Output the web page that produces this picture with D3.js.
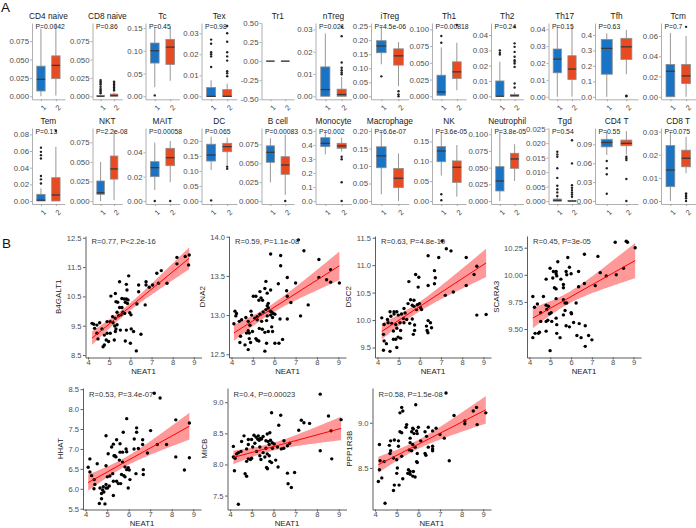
<!DOCTYPE html>
<html><head><meta charset="utf-8">
<script src="https://cdn.jsdelivr.net/npm/d3@7/dist/d3.min.js"></script>
<style>
body{margin:0;background:#fff}
svg text{font-family:"Liberation Sans",Arial,Helvetica,sans-serif}
</style></head>
<body>
<svg id="chart" width="696" height="528"></svg>
<script>
// ---------------- Panel A data ----------------
const boxTitles = ["CD4 naive","CD8 naive","Tc","Tex","Tr1","nTreg","iTreg","Th1","Th2","Th17","Tfh","Tcm",
  "Tem","NKT","MAIT","DC","B cell","Monocyte","Macrophage","NK","Neutrophil","Tgd","CD4 T","CD8 T"];
const boxPText = ["P=0.0042","P=0.86","P=0.45","P=0.98","","P=0.021","P=4.5e-06","P=0.00818","P=0.24","P=0.15","P=0.63","P=0.7",
  "P=0.13","P=2.2e-08","P=0.00058","P=0.065","P=0.00083","P=0.002","P=6.6e-07","P=3.6e-05","P=3.8e-05","P=0.54","P=0.55","P=0.075"];
const boxTicks = [
  ["0.000","0.025","0.050","0.075"],["0.000","0.025","0.050","0.075"],["0.00","0.05","0.10","0.15"],["0.00","0.01","0.02","0.03"],
  ["-0.50","-0.25","0.00","0.25","0.50"],["0.00","0.01","0.02","0.03"],["0.00","0.05","0.10","0.15","0.20","0.25"],
  ["0.000","0.025","0.050","0.075","0.100"],["0.00","0.01","0.02","0.03","0.04"],["0.00","0.01","0.02","0.03","0.04"],
  ["0.0","0.1","0.2","0.3","0.4"],["0.00","0.02","0.04","0.06"],
  ["0.00","0.02","0.04","0.06","0.08"],["0.000","0.025","0.050","0.075"],["0.00","0.02","0.04"],["0.00","0.05","0.10","0.15","0.20"],
  ["0.000","0.025","0.050","0.075"],["0.0","0.1","0.2","0.3","0.4","0.5"],["0.00","0.05","0.10","0.15","0.20"],["0.00","0.05","0.10","0.15"],
  ["0.000","0.025","0.050","0.075","0.100"],["0.000","0.005","0.010","0.015","0.020","0.025"],["0.00","0.03","0.06","0.09"],["0.00","0.01","0.02","0.03"]];
const boxDomains = [
  [-0.0041,0.0997],[-0.0041,0.0997],[-0.0066,0.161],[-0.0014,0.0349],[-0.5,0.5],[-0.00135,0.0329],[-0.0107,0.261],
  [-0.0045,0.1095],[-0.002,0.0479],[-0.0015,0.0437],[-0.016,0.477],[-0.0025,0.0728],
  [-0.0036,0.0876],[-0.0038,0.0933],[-0.0025,0.060],[-0.01,0.243],[-0.004,0.0966],[-0.021,0.521],[-0.0086,0.2086],
  [-0.0076,0.184],[-0.0045,0.1094],[-0.001,0.0252],[-0.0048,0.116],[-0.0013,0.0316]];
// [lower whisker, Q1, median, Q3, upper whisker]
const group1Stats = [
  [0,0.0072,0.023,0.041,0.092],[0,0,0,0.001,0.002],[0.020,0.073,0.100,0.117,0.153],[0,0,0,0.0042,0.0077],
  [0,0,0,0,0],[0,0,0.003,0.0132,0.0282],[0.114,0.155,0.179,0.198,0.25],[0,0.0015,0.0065,0.0315,0.073],
  [0,0,0,0.01,0.0225],[0,0.0142,0.0223,0.0283,0.042],[0,0.146,0.313,0.371,0.41],[0,0,0.0252,0.0319,0.063],
  [0,0,0.001,0.008,0.0152],[0,0.0086,0.0106,0.0256,0.050],[0.009,0.020,0.0274,0.0323,0.048],[0.103,0.133,0.153,0.189,0.214],
  [0.0247,0.0512,0.0644,0.073,0.083],[0.333,0.388,0.412,0.452,0.50],[0.019,0.095,0.129,0.155,0.20],[0.064,0.099,0.126,0.137,0.175],
  [0,0.015,0.030,0.0515,0.104],[0,0,0.0002,0.0007,0.0015],[0.073,0.086,0.093,0.098,0.111],[0,0.0062,0.0134,0.024,0.030]];
const group2Stats = [
  [0.001,0.024,0.042,0.055,0.099],[0,0,0.001,0.003,0.005],[0.034,0.070,0.108,0.125,0.153],[0,0,0,0.0032,0.006],
  [0,0,0,0,0],[0,0,0.0008,0.0032,0.0087],[0.036,0.111,0.144,0.169,0.193],[0.009,0.0265,0.0365,0.0515,0.08],
  [0,0,0.0004,0.0011,0.0025],[0,0.0102,0.0164,0.0243,0.042],[0.146,0.242,0.323,0.378,0.432],[0,0.013,0.0206,0.0319,0.06],
  [0,0,0.0072,0.028,0.065],[0.0013,0.028,0.041,0.0575,0.091],[0.0154,0.029,0.0356,0.0433,0.0493],[0.12,0.164,0.181,0.192,0.211],
  [0.008,0.0353,0.0476,0.0586,0.0873],[0.352,0.376,0.393,0.412,0.452],[0,0.038,0.065,0.093,0.136],[0.011,0.047,0.085,0.101,0.141],
  [0.030,0.049,0.063,0.0715,0.085],[0,0,0,0.0002,0.0005],[0.074,0.0878,0.0916,0.0968,0.111],[0.012,0.0148,0.0185,0.022,0.0278]];
const group1Outliers = [
  [],[0.004,0.006,0.008,0.010,0.013,0.016,0.018,0.020,0.022],[0.002],[0.027,0.025,0.021,0.020,0.019,0.014],
  [],[],[0.071],[0.09,0.08],[0.030,0.0284,0.0273],[],[],[],
  [0.064,0.059,0.055,0.051,0.030,0.026,0.021],[],[0],[0.002],[],[],[],[0.017,0.002],
  [],[0.017,0.0161,0.0153,0.0113,0.008,0.0053,0.0041,0.003,0.0018],[0.0635,0.052,0.0424,0.0116],[]];
const group2Outliers = [
  [],[0.008,0.010,0.012,0.014,0.016,0.018,0.020],[],[0.0335,0.030,0.026,0.021,0.019,0.017,0.012,0.011,0.0096],
  [],[0.0312,0.027,0.0152,0.0128,0.0117,0.0107,0.0099],[0.018,0.007,0],[0.1065],
  [0.0454,0.0346,0.0323,0.029,0.0258,0.0236,0.0225,0.0214,0.0192,0.0083,0.0057],[],[0.008,0.004],[0.069],
  [0.084],[],[0],[0.114,0.107],[0],[0.316,0.298,0.134,0],[],[],
  [],[0.021,0.013,0.0055,0.0046,0.0038,0.003,0.0023,0.0015],[0.0703,0.0677,0.065,0.035,0],[0.0033,0.0026,0.0019,0.0012,0]];
const groupNames = ["1","2"];
const groupColors = ["#1a74c6","#e84a22"];

// ---------------- Panel B data ----------------
const geneNames = ["B4GALT1","DNA2","DSC2","SCARA3","HHAT","MICB","PPP1R3B"];
const corText = ["R=0.77, P<2.2e-16","R=0.59, P=1.1e-08","R=0.63, P=4.8e-10","R=0.45, P=3e-05",
  "R=0.53, P=3.4e-07","R=0.4, P=0.00023","R=0.58, P=1.5e-08"];
const neat1Ticks = ["4","5","6","7","8","9"];
const neat1Domain = [3.88, 9.36];
const geneTicks = [
  ["8.5","9.5","10.5","11.5","12.5"],["12.5","13.0","13.5","14.0"],["9.5","10.0","10.5","11.0","11.5"],
  ["9.50","9.75","10.00","10.25"],["5.5","6.0","6.5","7.0","7.5","8.0","8.5"],["7.5","8.0","8.5","9.0"],["8.5","9.0"]];
const geneDomains = [[8.415,12.56],[12.459,14.009],[9.318,11.531],[9.237,10.358],[5.48,8.53],[7.276,9.229],[8.04,9.385]];

const ptsB4GALT1 = [[8.20,11.83],[8.59,11.86],[8.78,11.91],[8.75,11.57],[8.20,11.61],[7.46,11.38],[7.25,11.29],[7.73,10.95],
 [7.33,10.95],[7.05,10.89],[6.89,10.81],[6.74,11.00],[6.74,10.89],[6.70,10.21],[6.39,10.89],[6.39,10.66],[6.31,10.24],
 [5.92,11.20],[5.81,10.91],[5.84,10.72],[5.49,11.00],[5.60,10.43],[5.71,10.41],[5.81,10.41],[5.89,10.38],[5.76,10.30],
 [5.86,10.26],[5.49,10.12],[5.29,10.60],[5.08,10.51],[5.32,10.32],[5.40,10.30],[5.37,9.96],[5.65,9.96],[5.73,9.92],
 [5.45,9.84],[5.56,9.87],[5.97,9.94],[6.03,9.87],[5.16,9.81],[5.29,9.75],[4.90,9.64],[5.05,9.64],[5.26,9.49],[5.32,9.39],
 [5.05,9.24],[4.90,9.24],[5.29,9.30],[5.53,9.35],[5.81,9.35],[6.04,9.39],[6.15,9.30],[5.76,8.98],[6.00,8.90],[5.24,9.01],
 [4.86,9.01],[4.97,8.96],[4.77,8.84],[4.71,8.78],[6.28,8.64],[6.50,9.21],[4.19,9.58],[4.27,9.55],[4.31,9.41],[4.42,9.52],
 [4.55,9.60],[4.42,9.24],[4.47,9.05],[4.66,9.39],[5.18,9.60],[4.77,9.18],[5.37,9.53],[5.60,10.12]];
const ptsDNA2 = [[7.13,13.96],[7.39,13.82],[5.83,13.78],[6.30,13.76],[6.30,13.63],[8.09,13.71],[5.61,13.43],[6.19,13.40],
 [6.61,13.48],[8.64,13.58],[8.45,13.45],[8.64,13.42],[9.05,13.41],[8.09,13.48],[7.00,13.41],[6.58,13.31],[6.61,13.24],
 [5.83,13.32],[5.56,13.34],[5.33,13.30],[5.02,13.24],[5.14,13.24],[5.38,13.22],[5.28,13.19],[5.45,13.19],[5.67,13.28],
 [5.72,13.15],[5.67,13.12],[5.72,13.09],[5.61,13.07],[5.81,13.05],[5.88,13.04],[5.95,13.02],[6.03,13.01],[5.83,13.00],
 [5.67,12.99],[5.48,13.04],[5.33,13.01],[5.20,12.98],[5.09,12.96],[4.94,13.00],[4.78,12.92],[4.91,13.05],[4.67,12.97],
 [4.36,12.92],[4.47,12.94],[4.11,12.89],[4.16,13.05],[4.23,13.02],[4.20,12.99],[4.86,12.87],[5.20,12.94],[5.41,12.92],
 [5.64,12.93],[5.92,12.97],[6.27,12.95],[6.61,12.95],[7.23,12.99],[7.59,13.13],[6.78,13.16],[5.88,12.85],[5.72,12.79],
 [5.56,12.78],[5.44,12.82],[5.30,12.83],[4.98,12.79],[4.78,12.80],[4.70,12.77],[4.83,12.77],[4.42,12.73],[4.83,12.70],
 [5.14,12.70],[5.20,12.68],[5.28,12.67],[4.89,12.65],[4.39,12.65],[4.63,12.62],[4.78,12.56],[5.56,12.54],[5.64,12.64],
 [6.03,12.64],[6.22,12.64],[6.39,12.69],[5.92,12.79]];
const ptsDSC2 = [[7.05,11.44],[7.25,11.30],[7.47,11.26],[6.89,11.14],[6.39,11.17],[8.19,11.14],[8.69,10.98],[6.69,10.90],
 [5.80,10.83],[5.95,10.78],[6.73,10.77],[5.48,10.70],[6.69,10.66],[6.39,10.63],[5.92,10.60],[8.19,10.63],[8.56,10.83],
 [7.20,10.45],[7.58,10.51],[8.69,10.09],[9.13,10.10],[5.56,10.37],[5.72,10.36],[5.64,10.27],[5.72,10.25],[5.88,10.28],
 [5.98,10.30],[6.03,10.23],[6.08,10.19],[5.84,10.19],[5.44,10.30],[5.25,10.21],[5.30,10.13],[5.13,10.11],[4.98,10.09],
 [4.78,10.11],[4.78,10.15],[4.91,10.15],[4.63,10.07],[4.59,10.15],[4.47,10.01],[4.31,9.92],[4.50,9.95],[4.67,9.94],
 [4.86,9.92],[5.06,9.95],[5.25,9.95],[5.38,10.01],[5.22,10.03],[5.52,9.94],[5.64,10.02],[5.75,9.91],[6.39,9.99],
 [6.50,9.95],[6.31,9.89],[6.34,9.81],[6.38,9.77],[6.55,9.86],[5.75,9.81],[5.69,9.74],[5.09,9.81],[4.91,9.85],[4.75,9.80],
 [4.97,9.69],[5.09,9.67],[4.86,9.65],[4.75,9.65],[4.20,10.04],[4.28,9.74],[4.31,9.62],[4.42,9.57],[4.28,9.45],[4.59,9.43],
 [4.91,9.50]];
const ptsSCARA3 = [[8.12,10.30],[8.65,10.31],[8.71,10.30],[9.08,10.25],[6.64,10.19],[7.29,10.17],[5.84,10.16],[5.36,10.12],
 [5.92,10.07],[4.99,10.06],[5.15,10.03],[5.28,10.03],[5.28,10.01],[5.76,10.03],[5.79,10.00],[6.00,10.01],[6.36,10.03],
 [5.12,9.97],[5.31,9.99],[5.51,9.96],[4.80,9.96],[7.40,10.02],[7.69,9.99],[8.17,10.00],[8.52,10.06],[5.63,9.91],[5.63,9.88],
 [5.20,9.88],[5.28,9.87],[6.36,9.89],[6.64,9.92],[7.16,9.90],[4.16,9.80],[4.67,9.80],[5.28,9.78],[5.63,9.77],[5.71,9.74],
 [5.79,9.74],[6.24,9.74],[4.38,9.73],[4.24,9.70],[4.80,9.72],[4.91,9.71],[4.83,9.68],[4.54,9.65],[4.96,9.64],[5.04,9.65],
 [5.71,9.67],[5.63,9.63],[6.00,9.65],[6.02,9.64],[5.28,9.60],[4.88,9.58],[5.07,9.57],[4.80,9.57],[4.54,9.57],[6.12,9.56],
 [6.39,9.55],[5.31,9.54],[5.76,9.53],[5.92,9.52],[6.68,9.53],[4.80,9.48],[5.31,9.46],[4.16,9.42],[4.27,9.46],[4.43,9.46],
 [4.48,9.47],[5.47,9.42],[6.28,9.44],[6.48,9.42],[6.84,9.44],[7.00,9.40],[6.68,9.34],[4.99,9.30]];
const ptsHHAT = [[7.19,8.40],[7.46,8.28],[5.91,7.76],[8.19,7.73],[8.82,7.65],[6.37,7.53],[5.75,7.42],[6.37,7.42],[7.02,7.46],
 [4.95,7.33],[5.44,7.23],[6.26,7.25],[6.65,7.23],[5.60,7.13],[6.65,7.11],[5.29,7.12],[5.21,7.05],[5.88,7.00],[6.25,7.00],
 [6.45,7.01],[6.87,6.90],[5.60,6.92],[5.72,6.92],[5.91,6.93],[5.05,6.88],[5.36,6.83],[5.41,6.80],[5.32,6.83],[7.33,7.11],
 [7.76,7.11],[8.19,6.80],[8.82,6.78],[4.20,6.75],[5.57,6.72],[5.72,6.67],[4.54,6.63],[5.83,6.55],[5.98,6.53],[5.91,6.48],
 [6.03,6.47],[4.95,6.58],[4.12,6.54],[4.20,6.42],[6.68,6.48],[8.59,6.47],[6.68,6.36],[6.34,6.38],[4.28,6.33],[5.26,6.38],
 [5.13,6.32],[5.01,6.30],[5.67,6.36],[5.78,6.33],[5.83,6.30],[4.40,6.23],[6.06,6.23],[5.29,6.19],[5.44,6.19],[5.52,6.13],
 [5.63,6.13],[4.43,6.11],[4.95,6.11],[4.82,6.05],[4.67,6.02],[4.95,6.02],[5.02,6.02],[5.10,6.07],[4.39,6.00],[4.79,5.97],
 [4.85,5.92],[5.98,6.02],[4.74,5.88],[5.29,5.83],[4.74,5.75],[4.64,5.63],[4.90,5.62]];
const ptsMICB = [[8.15,9.13],[5.91,8.83],[6.33,8.79],[8.53,8.78],[9.11,8.72],[7.28,8.71],[7.40,8.67],[7.66,8.66],[6.24,8.63],
 [7.16,8.55],[8.65,8.54],[5.83,8.51],[4.64,8.46],[5.10,8.47],[5.19,8.44],[5.30,8.46],[5.40,8.42],[5.52,8.45],[5.71,8.49],
 [4.53,8.37],[4.84,8.40],[4.99,8.40],[5.27,8.41],[5.34,8.39],[5.45,8.41],[5.65,8.38],[5.75,8.37],[5.86,8.39],[5.94,8.35],
 [6.03,8.33],[5.80,8.32],[6.48,8.38],[6.74,8.34],[5.14,8.34],[4.84,8.32],[4.76,8.25],[5.04,8.28],[5.37,8.28],[5.65,8.26],
 [5.95,8.26],[6.18,8.28],[6.36,8.25],[6.64,8.30],[4.15,8.29],[4.50,8.21],[4.38,8.19],[4.30,8.17],[4.15,8.12],[4.23,8.10],
 [5.22,8.21],[5.52,8.19],[5.71,8.17],[5.80,8.14],[5.37,8.14],[5.60,8.12],[4.99,8.10],[4.94,8.08],[4.84,8.09],[4.76,8.05],
 [5.42,8.08],[5.83,8.05],[6.10,8.07],[5.91,8.03],[6.21,7.96],[5.68,7.95],[5.72,7.93],[6.47,8.26],[8.15,8.22],[8.68,8.09],
 [4.20,7.90],[4.69,7.85],[4.76,7.81],[6.64,7.86],[6.97,7.87],[6.67,7.69],[6.82,7.63],[4.38,7.36]];
const ptsPPP1R3B = [[7.28,9.33],[5.88,9.20],[5.23,9.17],[5.28,9.13],[5.15,9.11],[7.65,9.08],[8.69,9.17],[8.54,9.13],[9.12,9.11],
 [8.15,9.02],[8.15,8.99],[8.72,8.98],[5.46,8.98],[5.43,8.95],[5.74,8.94],[6.00,8.95],[5.77,8.93],[5.92,8.91],[5.80,8.88],
 [5.95,8.88],[5.69,8.90],[6.46,8.95],[6.82,8.94],[6.66,8.91],[6.31,8.90],[5.15,8.90],[5.23,8.89],[4.89,8.81],[4.72,8.80],
 [5.08,8.80],[5.62,8.83],[6.11,8.80],[6.38,8.85],[7.20,8.83],[7.00,8.87],[5.62,8.78],[5.74,8.76],[5.85,8.73],[5.58,8.70],
 [5.69,8.69],[5.08,8.74],[4.66,8.75],[4.20,8.76],[4.72,8.69],[4.69,8.66],[5.23,8.63],[5.00,8.59],[4.85,8.61],[4.42,8.57],
 [4.23,8.58],[4.20,8.48],[5.03,8.50],[5.95,8.66],[5.92,8.57],[5.95,8.56],[6.31,8.66],[6.66,8.74],[6.66,8.71],[6.66,8.69],
 [6.35,8.64],[6.46,8.73],[5.54,8.48],[5.62,8.46],[5.51,8.44],[5.74,8.41],[5.62,8.43],[5.85,8.40],[5.77,8.46],[5.00,8.44],
 [4.31,8.39],[4.15,8.35],[4.89,8.31],[5.28,8.38],[5.11,8.31],[4.85,8.25],[4.46,8.11],[7.43,8.58]];
const genePoints = [ptsB4GALT1, ptsDNA2, ptsDSC2, ptsSCARA3, ptsHHAT, ptsMICB, ptsPPP1R3B];

// ---------------- Layout (not data) ----------------
const boxCellLeft = 8, boxCellW = 57.33;
const boxAxisX = [32, 92.5, 145.5, 201.5, 261.5, 315.5, 371, 432, 491, 548.5, 595, 661];
const boxRowY = [[23, 99.3], [128, 204]];
const scatterRects = [[85.5,201.5,236,357.5],[229,346,236,357.5],[375,491,236,357.5],[527,641,236,357.5],
  [83,201,388,509.5],[227.5,346.5,388,509.5],[372.5,491,388,509.5]];

const svg = d3.select("#chart");
const tickColor = "#4d4d4d";

svg.append("text").attr("x",1).attr("y",12).attr("font-size",13.5).attr("fill","#111").text("A");
svg.append("text").attr("x",2).attr("y",248).attr("font-size",13.5).attr("fill","#111").text("B");

// ---------- box plots ----------
boxTitles.forEach((title, i) => {
  const row = Math.floor(i / 12), col = i % 12;
  const x0 = boxAxisX[col];
  const x1 = boxCellLeft + (col + 1) * boxCellW - 0.5;
  const [top, bottom] = boxRowY[row];
  const g = svg.append("g");
  const xs = d3.scalePoint().domain(groupNames).range([x0, x1]).padding(0.6);
  const ys = d3.scaleLinear().domain(boxDomains[i]).range([bottom, top]);
  const bw = xs.step() * 0.56;

  const yAx = g.append("g").attr("transform", `translate(${x0},0)`)
    .call(d3.axisLeft(ys).tickValues(boxTicks[i].map(Number)).tickFormat((d, j) => boxTicks[i][j]).tickSize(2).tickSizeOuter(0).tickPadding(1));
  yAx.select(".domain").attr("stroke", "#9a9a9a").attr("stroke-width", 0.8);
  yAx.selectAll(".tick line").attr("stroke", "#9a9a9a").attr("stroke-width", 0.8);
  yAx.selectAll(".tick text").attr("font-size", 7.8).attr("fill", tickColor).attr("font-family", '"Liberation Sans",Arial,sans-serif');
  const xAx = g.append("g").attr("transform", `translate(0,${bottom})`)
    .call(d3.axisBottom(xs).tickSize(2).tickSizeOuter(0).tickFormat(""));
  xAx.select(".domain").attr("stroke", "#9a9a9a").attr("stroke-width", 0.8);
  xAx.selectAll(".tick line").attr("stroke", "#9a9a9a").attr("stroke-width", 0.8);
  groupNames.forEach(gn => {
    g.append("text").attr("font-size", 7.5).attr("fill", tickColor).attr("text-anchor", "end")
      .attr("transform", `translate(${xs(gn) + 2.5},${bottom + 5.5}) rotate(-45)`).attr("dy", "0.6em").text(gn);
  });

  g.append("text").attr("x", (x0 + x1) / 2).attr("y", top - 4.5).attr("text-anchor", "middle")
    .attr("font-size", 8.3).attr("fill", "#1a1a1a").text(title);

  [group1Stats[i], group2Stats[i]].forEach((s, k) => {
    const cx = xs(groupNames[k]);
    g.append("line").attr("x1", cx).attr("x2", cx).attr("y1", ys(s[0])).attr("y2", ys(s[4]))
      .attr("stroke", "#8c8c8c").attr("stroke-width", 0.9);
    g.append("rect").attr("x", cx - bw / 2).attr("width", bw).attr("y", ys(s[3]))
      .attr("height", Math.max(0.01, ys(s[1]) - ys(s[3])))
      .attr("fill", groupColors[k]).attr("stroke", "#8c8c8c").attr("stroke-width", 0.8);
    g.append("line").attr("x1", cx - bw / 2).attr("x2", cx + bw / 2).attr("y1", ys(s[2])).attr("y2", ys(s[2]))
      .attr("stroke", "#3a3a3a").attr("stroke-width", 1.3);
    const outs = k === 0 ? group1Outliers[i] : group2Outliers[i];
    g.selectAll(null).data(outs).enter().append("circle")
      .attr("cx", cx).attr("cy", d => ys(d)).attr("r", 1.2).attr("fill", "#222");
  });

  if (boxPText[i]) {
    g.append("text").attr("transform", `translate(${x0 + 3.5},${top + 6.3}) scale(0.87,1)`)
      .attr("font-size", 7.8).attr("fill", "#222").text(boxPText[i]);
  }
});

// ---------- scatter plots ----------
geneNames.forEach((gene, i) => {
  const [l, r, t, b] = scatterRects[i];
  const pts = genePoints[i];
  const g = svg.append("g");
  const xs = d3.scaleLinear().domain(neat1Domain).range([l, r]);
  const ys = d3.scaleLinear().domain(geneDomains[i]).range([b, t]);

  // linear fit with 95% confidence band (as geom_smooth(method = "lm"))
  const n = pts.length;
  const mx = d3.mean(pts, d => d[0]), my = d3.mean(pts, d => d[1]);
  const sxx = d3.sum(pts, d => (d[0] - mx) ** 2);
  const sxy = d3.sum(pts, d => (d[0] - mx) * (d[1] - my));
  const slope = sxy / sxx, intercept = my - slope * mx;
  const sse = d3.sum(pts, d => (d[1] - intercept - slope * d[0]) ** 2);
  const se = Math.sqrt(sse / (n - 2));
  const tq = 1.993;
  const [minX, maxX] = d3.extent(pts, d => d[0]);
  const grid = d3.range(0, 81).map(k => minX + (maxX - minX) * k / 80);
  const band = grid.map(x => {
    const yh = intercept + slope * x;
    const h = tq * se * Math.sqrt(1 / n + (x - mx) ** 2 / sxx);
    return [x, yh - h, yh + h];
  });
  g.append("path").datum(band)
    .attr("d", d3.area().x(d => xs(d[0])).y0(d => ys(d[1])).y1(d => ys(d[2])))
    .attr("fill", "#ff0000").attr("fill-opacity", 0.4);

  g.selectAll(null).data(pts).enter().append("circle")
    .attr("cx", d => xs(d[0])).attr("cy", d => ys(d[1])).attr("r", 1.7).attr("fill", "#000");

  g.append("line").attr("x1", xs(minX)).attr("x2", xs(maxX))
    .attr("y1", ys(intercept + slope * minX)).attr("y2", ys(intercept + slope * maxX))
    .attr("stroke", "#ff0000").attr("stroke-width", 1);

  const yAx = g.append("g").attr("transform", `translate(${l},0)`)
    .call(d3.axisLeft(ys).tickValues(geneTicks[i].map(Number)).tickFormat((d, j) => geneTicks[i][j]).tickSize(2.5).tickSizeOuter(0).tickPadding(1.5));
  const xAx = g.append("g").attr("transform", `translate(0,${b})`)
    .call(d3.axisBottom(xs).tickValues(neat1Ticks.map(Number)).tickFormat((d, j) => neat1Ticks[j]).tickSize(2).tickSizeOuter(0).tickPadding(0));
  [yAx, xAx].forEach(ax => {
    ax.select(".domain").attr("stroke", "#333").attr("stroke-width", 0.8);
    ax.selectAll(".tick line").attr("stroke", "#333").attr("stroke-width", 0.8);
    ax.selectAll(".tick text").attr("font-size", 7.6).attr("fill", tickColor).attr("font-family", '"Liberation Sans",Arial,sans-serif');
  });

  const labW = d3.max(geneTicks[i], s => s.length) * 4.1;
  g.append("text").attr("transform", `translate(${l - labW - 8},${(t + b) / 2}) rotate(-90)`)
    .attr("text-anchor", "middle").attr("font-size", 8).attr("fill", "#222").text(gene);
  g.append("text").attr("x", (l + r) / 2).attr("y", b + 16).attr("text-anchor", "middle")
    .attr("font-size", 7.8).attr("fill", "#222").text("NEAT1");
  g.append("text").attr("x", l + 6).attr("y", t + (i < 4 ? 7.5 : 9)).attr("font-size", 7.6)
    .attr("fill", "#333").text(corText[i]);
});
</script>
</body></html>
